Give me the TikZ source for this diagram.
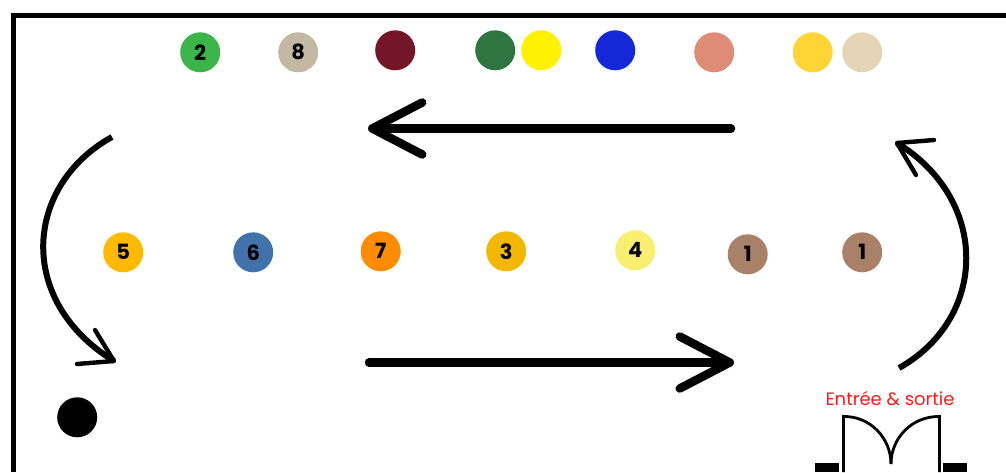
\documentclass[tikz,border=0pt]{standalone}
\usepackage{fontspec}
\setmainfont{Poppins}
\usepackage{tikz}
\usetikzlibrary{arrows.meta}
\definecolor{dotgreen}{HTML}{3bb54a}
\definecolor{dotsand}{HTML}{c2b8a3}
\definecolor{dotwine}{HTML}{741627}
\definecolor{dotforest}{HTML}{2f7542}
\definecolor{dotyellow}{HTML}{fff200}
\definecolor{dotblue}{HTML}{1428d8}
\definecolor{dotsalmon}{HTML}{de8c76}
\definecolor{dotgold}{HTML}{ffd535}
\definecolor{dotcream}{HTML}{e5d5b6}
\definecolor{dotamber}{HTML}{ffba00}
\definecolor{dotsteel}{HTML}{4272ac}
\definecolor{dotorange}{HTML}{ff8b00}
\definecolor{dotmustard}{HTML}{f2b800}
\definecolor{dotlemon}{HTML}{f8ef70}
\definecolor{dotbrown}{HTML}{a98168}
\definecolor{exitred}{HTML}{ff1a1a}
\tikzset{
	dot/.style={circle, fill=#1, minimum size=40pt, inner sep=0pt, font=\fontsize{21}{21}\selectfont\bfseries},
	bigarrow/.style={line width=8.5pt, line cap=round, -{Straight Barb[round, length=50pt, width=52pt]}},
	curvearrow/.style={line width=6pt},
	curvehead/.style={line width=4.4pt, line cap=round, line join=round},
	doorline/.style={line width=2.8pt}
}
\begin{document}
\begin{tikzpicture}[x=1pt, y=-1pt]
	\useasboundingbox (0,0) rectangle (1006,472);
	% frame
	\coordinate (framebottom) at (13.3,472);
	\coordinate (framecorner) at (13.3,15);
	\coordinate (frameright) at (1006,15);
	\draw[line width=5pt] (framebottom) -- (framecorner) -- (frameright);
	% top row
	\node[dot=dotgreen] (top2) at (200.2,52.3) {2};
	\node[dot=dotsand] (top8) at (298.2,52.3) {8};
	\node[dot=dotwine] (wine) at (395.2,50.3) {};
	\node[dot=dotforest] (forest) at (495.2,50.3) {};
	\node[dot=dotyellow] (yellow) at (541.2,50.3) {};
	\node[dot=dotblue] (blue) at (615.2,50.3) {};
	\node[dot=dotsalmon] (salmon) at (714.2,52.3) {};
	\node[dot=dotgold] (gold) at (812.7,52.3) {};
	\node[dot=dotcream] (cream) at (862.2,52.3) {};
	% middle row
	\node[dot=dotamber] (mid5) at (123.2,252.3) {5};
	\node[dot=dotsteel] (mid6) at (253.2,252.3) {6};
	\node[dot=dotorange] (mid7) at (380.7,251.3) {7};
	\node[dot=dotmustard] (mid3) at (506.2,251.3) {3};
	\node[dot=dotlemon] (mid4) at (635.2,250.3) {4};
	\node[dot=dotbrown] (mid1a) at (747.7,254.3) {1};
	\node[dot=dotbrown] (mid1b) at (862.2,252.3) {1};
	\node[dot=black] (start) at (77.2,417.3) {};
	% straight arrows
	\coordinate (topfrom) at (731,128.5);
	\coordinate (topto) at (368,128.5);
	\coordinate (botfrom) at (369,362.5);
	\coordinate (botto) at (734,362.5);
	\draw[bigarrow] (topfrom) -- (topto);
	\draw[bigarrow] (botfrom) -- (botto);
	% curved arrows
	\coordinate (leftfrom) at (112,137);
	\coordinate (leftto) at (114,361);
	\coordinate (leftwing) at (95,330);
	\coordinate (leftfoot) at (77,364);
	\draw[curvearrow] (leftfrom) .. controls (25,185) and (15,300) .. (leftto);
	\draw[curvehead] (leftwing) -- (leftto) -- (leftfoot);
	\coordinate (rightfrom) at (899,368);
	\coordinate (rightto) at (897,143);
	\coordinate (rightwing) at (916,175);
	\coordinate (rightfoot) at (934,140);
	\draw[curvearrow] (rightfrom) .. controls (988,318) and (990,200) .. (rightto);
	\draw[curvehead] (rightwing) -- (rightto) -- (rightfoot);
	% door
	\node[text=exitred, font=\fontsize{18}{20}\selectfont, inner sep=0pt] (exitlabel) at (890,399) {Entrée \& sortie};
	\coordinate (doorleft) at (843.5,416.5);
	\coordinate (doorright) at (939.5,416.5);
	\coordinate (doormid) at (891,464);
	\draw[doorline] (843.5,472) -- (doorleft) .. controls (870,416) and (891,438) .. (doormid);
	\draw[doorline] (939.5,472) -- (doorright) .. controls (912,416) and (891,438) .. (doormid);
	\fill (815,463) rectangle (839,472);
	\fill (943,463) rectangle (967,472);
\end{tikzpicture}
\end{document}
